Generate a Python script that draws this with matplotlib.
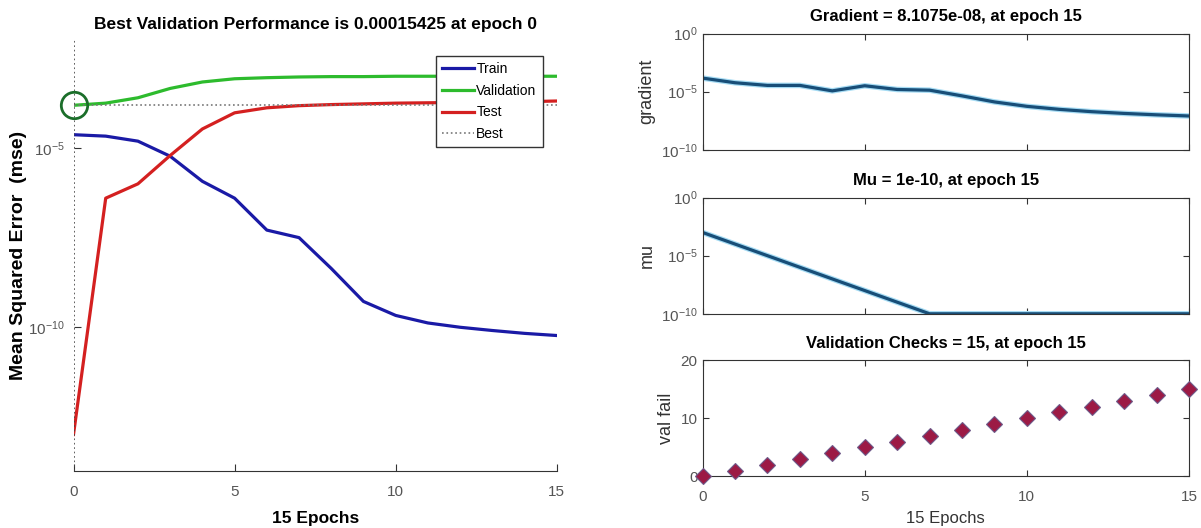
import matplotlib
matplotlib.use('Agg')
import matplotlib.pyplot as plt
import matplotlib.patheffects as pe
import numpy as np

plt.rcParams['font.family'] = ['Liberation Sans', 'DejaVu Sans']
plt.rcParams['mathtext.fontset'] = 'custom'
plt.rcParams['mathtext.rm'] = 'Liberation Sans'

# performance curves (left)
epochs = list(range(0, 16))
train_mse = [10**v for v in [-4.63, -4.67, -4.81, -5.23, -5.93, -6.40, -7.29, -7.50,
                             -8.36, -9.28, -9.67, -9.88, -10.0, -10.09, -10.17, -10.23]]
val_mse = [10**v for v in [-3.81, -3.75, -3.60, -3.34, -3.16, -3.07, -3.04, -3.02,
                           -3.01, -3.01, -3.0, -3.0, -3.0, -3.0, -3.0, -3.0]]
test_mse = [10**v for v in [-12.99, -6.40, -6.0, -5.21, -4.47, -4.02, -3.88, -3.82,
                            -3.79, -3.77, -3.75, -3.74, -3.73, -3.72, -3.71, -3.69]]
best_epoch = 0
best_perf = 0.00015425

# training state (right)
gradient = [10**v for v in [-3.83, -4.23, -4.46, -4.46, -4.93, -4.49, -4.81, -4.87,
                            -5.36, -5.88, -6.26, -6.52, -6.72, -6.87, -6.99, -7.09]]
mu = [1e-3, 1e-4, 1e-5, 1e-6, 1e-7, 1e-8, 1e-9, 1e-10,
      1e-10, 1e-10, 1e-10, 1e-10, 1e-10, 1e-10, 1e-10, 1e-10]
val_fail = [0, 1, 2, 3, 4, 5, 6, 7, 8, 9, 10, 11, 12, 13, 14, 15]

tick_gray = '#555555'
spine_gray = '#333333'

fig = plt.figure(figsize=(12.01, 5.28), dpi=100)

# ---- left: performance
ax = fig.add_axes([0.0612, 0.1085, 0.4024, 0.815])
ax.plot(epochs, train_mse, color='#1a1aa6', lw=2.3, label='Train')
ax.plot(epochs, val_mse, color='#2dbb2d', lw=2.3, label='Validation')
ax.plot(epochs, test_mse, color='#d42020', lw=2.3, label='Test')
ax.axhline(best_perf, color='#777777', ls=':', lw=1.2, label='Best')
ax.axvline(best_epoch, color='#444444', ls=':', lw=1.2)
ax.plot([best_epoch], [best_perf], 'o', ms=19, mfc='none', mec='#1b6e2a', mew=2,
        clip_on=False, zorder=6)
ax.set_yscale('log')
ax.set_xlim(0, 15)
ax.set_ylim(1e-14, 1e-2)
ax.set_xticks([0, 5, 10, 15])
ax.set_yticks([1e-10, 1e-5])
ax.minorticks_off()
ax.spines['top'].set_visible(False)
ax.spines['right'].set_visible(False)
ax.spines['left'].set_visible(False)
ax.spines['bottom'].set_color(spine_gray)
ax.tick_params(direction='in', length=5, colors=spine_gray, labelcolor=tick_gray,
               labelsize=11)
ax.tick_params(axis='x', pad=10)
ax.tick_params(axis='y', pad=6)
ax.set_title('Best Validation Performance is 0.00015425 at epoch 0',
             fontsize=12.5, fontweight='bold', pad=8)
ax.set_xlabel('15 Epochs', fontsize=12.5, fontweight='bold', labelpad=9)
ax.set_ylabel('Mean Squared Error  (mse)', fontsize=14, fontweight='bold')
ax.yaxis.set_label_coords(-0.097, 0.5)
leg = ax.legend(loc='upper right', bbox_to_anchor=(0.971, 0.964), fontsize=10,
                fancybox=False, framealpha=1, edgecolor='#333333', handlelength=2.3,
                handletextpad=0.15, borderpad=0.45, labelspacing=0.55, borderaxespad=0)
leg.get_frame().set_linewidth(1.0)

# ---- right: training state
left_r, width_r = 0.585, 0.405
bottoms = [0.7163, 0.4057, 0.0977]
height_r = 0.2201
halo = [pe.Stroke(linewidth=4, foreground='#a6dcf4'), pe.Normal()]

def style_right(a, show_x):
    a.set_xlim(0, 15)
    a.set_xticks([0, 5, 10, 15])
    a.tick_params(direction='in', length=4, top=True, right=True, colors=spine_gray,
                  labelcolor=tick_gray, labelsize=11, labelbottom=show_x)
    a.tick_params(axis='x', pad=10)
    for s in a.spines.values():
        s.set_color(spine_gray)

a1 = fig.add_axes([left_r, bottoms[0], width_r, height_r])
a1.plot(epochs, gradient, color='#184e78', lw=2.3, path_effects=halo)
a1.set_yscale('log')
a1.set_ylim(1e-10, 1e0)
a1.set_yticks([1e-10, 1e-5, 1e0])
a1.minorticks_off()
style_right(a1, False)
a1.set_title('Gradient = 8.1075e-08, at epoch 15', fontsize=12, fontweight='bold', pad=9)
a1.set_ylabel('gradient', fontsize=13, color='#333333', labelpad=4)

a2 = fig.add_axes([left_r, bottoms[1], width_r, height_r])
a2.plot(epochs, mu, color='#184e78', lw=2.3, path_effects=halo)
a2.set_yscale('log')
a2.set_ylim(1e-10, 1e0)
a2.set_yticks([1e-10, 1e-5, 1e0])
a2.minorticks_off()
style_right(a2, False)
a2.set_title('Mu = 1e-10, at epoch 15', fontsize=12, fontweight='bold', pad=9)
a2.set_ylabel('mu', fontsize=13, color='#333333', labelpad=4)

a3 = fig.add_axes([left_r, bottoms[2], width_r, height_r])
a3.plot(epochs, val_fail, 'D', ms=8.5, mfc='#9c1a45', mec='#6e5a8a', mew=0.8,
        clip_on=False, zorder=5)
a3.set_ylim(0, 20)
a3.set_yticks([0, 10, 20])
style_right(a3, True)
a3.set_title('Validation Checks = 15, at epoch 15', fontsize=12, fontweight='bold', pad=9)
a3.set_ylabel('val fail', fontsize=13, color='#333333', labelpad=4)
a3.set_xlabel('15 Epochs', fontsize=12, color='#333333', labelpad=5)

plt.savefig('out.png', dpi=100)
